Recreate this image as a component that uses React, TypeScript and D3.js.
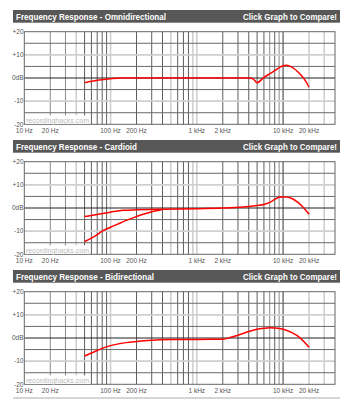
import React from 'react';
import * as d3 from 'd3';

// panel titles
const titles = [
  'Frequency Response - Omnidirectional',
  'Frequency Response - Cardioid',
  'Frequency Response - Bidirectional',
];
const titleWidths = [150, 121, 138];

// series values (Hz / dB)
const omniHz = [50, 70, 100, 130, 4000, 4500, 5000, 6000, 7000, 8000, 9000, 10000, 11000, 12500, 15000, 17500, 20000];
const omniDb = [-2, -1, -0.3, 0, 0, -0.4, -2, 0.3, 1.8, 3.2, 4.4, 5.3, 5.5, 4.8, 2.5, -0.3, -4];

const cardUpperHz = [50, 70, 100, 140, 200, 400, 1000, 2000, 3000, 4000, 5000, 6000, 7000, 8000, 9000, 10000, 11000, 12500, 15000, 17500, 20000];
const cardUpperDb = [-3.7, -2.8, -1.8, -1.0, -0.8, -0.5, -0.3, 0, 0.3, 0.7, 1.1, 1.5, 2.4, 3.7, 4.6, 4.8, 4.7, 4.2, 2.3, -0.1, -2.7];

const cardLowerHz = [50, 60, 70, 80, 100, 130, 160, 200, 250, 300, 400];
const cardLowerDb = [-14.5, -13, -11.5, -10, -8.3, -6.5, -5, -3.7, -2.5, -1.6, -0.6];

const bidirHz = [50, 60, 70, 80, 100, 150, 200, 300, 500, 1000, 2000, 2500, 3000, 4000, 5000, 6000, 7000, 8000, 10000, 12500, 15000, 17500, 20000];
const bidirDb = [-7.8, -6.5, -5.4, -4.5, -3.3, -2, -1.5, -1, -0.7, -0.6, -0.5, 0.3, 1.2, 2.8, 3.8, 4.2, 4.4, 4.3, 3.8, 2.4, 0.7, -1.6, -4];

// axis ticks
const yTickValues = [20, 10, 0, -10, -20];
const yTickLabels = ['+20', '+10', '0dB', '-10', '-20'];
const xTickValues = [10, 20, 100, 200, 1000, 2000, 10000, 20000];
const xTickLabels = ['10 Hz', '20 Hz', '100 Hz', '200 Hz', '1 kHz', '2 kHz', '10 kHz', '20 kHz'];

const panelSeries = [
  [[omniHz, omniDb]],
  [[cardUpperHz, cardUpperDb], [cardLowerHz, cardLowerDb]],
  [[bidirHz, bidirDb]],
];

const lightV = [40, 100, 500, 900, 1000, 20000, 30000];
const midV = [20, 30, 7000, 9000];

const x = d3.scaleLog().domain([10, 40000]).range([24.3, 335]);
const y = d3.scaleLinear().domain([-20, 20]).range([124.3, 31.7]);

const line = d3.line<[number, number]>()
  .x(d => x(d[0]))
  .y(d => y(d[1]))
  .curve(d3.curveMonotoneX);

const vGrid: number[] = [];
for (let dec = 10; dec <= 10000; dec *= 10) {
  for (let m = 1; m <= 9; m++) {
    const f = dec * m;
    if (f > 10 && f < 40000) vGrid.push(f);
  }
}

const vColor = (f: number) => {
  if (f === 10000) return '#333';
  if (lightV.includes(f)) return '#cfcfcf';
  if (midV.includes(f)) return '#8a8a8a';
  return '#5e5e5e';
};

const hColor = (db: number) => {
  if (db === 0) return '#222';
  if (Math.abs(db) === 10) return '#cfcfcf';
  return '#6a6a6a';
};

const font = 'Liberation Sans, Arial, sans-serif';

const Panel = ({ index }: { index: number }) => {
  const [x0, x1] = x.range();
  const [y0, y1] = y.range();
  return (
    <g transform={`translate(0,${index * 130})`}>
      <rect x={13} y={10} width={327} height={12.7} fill="#575757" />
      <text x={16} y={19.8} fill="#fff" fontFamily={font} fontWeight="bold" fontSize={9.5}
        textLength={titleWidths[index]} lengthAdjust="spacingAndGlyphs">{titles[index]}</text>
      <text x={337} y={19.8} fill="#fff" fontFamily={font} fontWeight="bold" fontSize={9.5}
        textAnchor="end" textLength={94} lengthAdjust="spacingAndGlyphs">Click Graph to Compare!</text>

      {vGrid.map(f => (
        <line key={f} x1={x(f)} x2={x(f)} y1={y1} y2={y0}
          stroke={vColor(f)} strokeWidth={lightV.includes(f) ? 1.6 : 1} />
      ))}
      {[15, 10, 5, 0, -5, -10, -15].map(db => (
        <line key={db} x1={x0} x2={x1} y1={y(db)} y2={y(db)}
          stroke={hColor(db)} strokeWidth={Math.abs(db) === 10 ? 1.6 : 1} />
      ))}
      <rect x={x0} y={y1} width={x1 - x0} height={y0 - y1} fill="none" stroke="#666" strokeWidth={1} />

      {/* watermark */}
      <rect x={25} y={115.5} width={65} height={8.3} fill="#fff" />
      <text x={26} y={122.5} fill="#bbb" fontFamily={font} fontSize={8}
        textLength={63} lengthAdjust="spacingAndGlyphs">recordinghacks.com</text>

      {panelSeries[index].map(([hz, db], k) => (
        <path key={k} d={line(hz.map((f, i) => [f, db[i]] as [number, number])) || ''}
          fill="none" stroke="#ff0000" strokeWidth={1.5} />
      ))}

      {yTickValues.map((v, i) => (
        <text key={v} x={23.5} y={y(v)} dy="0.35em" textAnchor="end" fill="#555"
          fontFamily={font} fontSize={6.5}>{yTickLabels[i]}</text>
      ))}
      {xTickValues.map((v, i) => (
        <text key={v} x={x(v)} y={133} textAnchor="middle" fill="#555"
          fontFamily={font} fontSize={6.5}>{xTickLabels[i]}</text>
      ))}
      {index === 2 && <line x1={13} x2={340} y1={138} y2={138} stroke="#aaa" strokeWidth={1} />}
    </g>
  );
};

export default function App() {
  return (
    <svg width={363} height={400} style={{ position: 'absolute', left: 0, top: 0, background: '#fff' }}>
      {[0, 1, 2].map(i => <Panel key={i} index={i} />)}
    </svg>
  );
}
